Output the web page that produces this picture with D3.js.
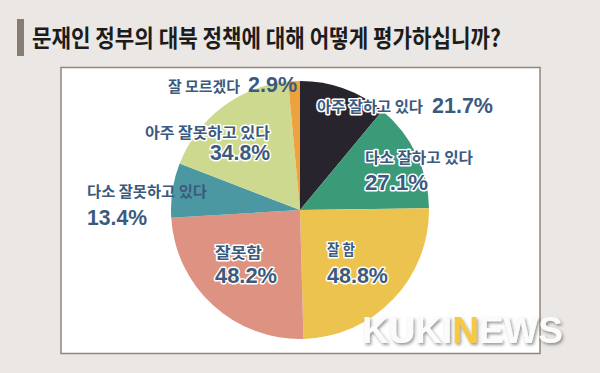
<!DOCTYPE html>
<html>
<head>
<meta charset="utf-8">
<script src="https://cdn.jsdelivr.net/npm/d3@7"></script>
<style>
  html, body { margin: 0; padding: 0; background: #ebe7e4; }
  svg { display: block; }
</style>
</head>
<body>
<svg id="chart"></svg>
<script>
const title = '문재인 정부의 대북 정책에 대해 어떻게 평가하십니까?';
const categories = ['아주 잘하고 있다', '다소 잘하고 있다', '잘 함', '잘못함', '다소 잘못하고 있다', '아주 잘못하고 있다', '잘 모르겠다'];
const values = [21.7, 27.1, 48.8, 48.2, 13.4, 34.8, 2.9];
const colors = ['#28242e', '#3b9a78', '#ecc34f', '#dd9282', '#4b98a3', '#cdd98e', '#eea23f'];

(function () {
    const width = 600;
    const height = 373;
    const cx = 300, cy = 210, radius = 129;

    // label placement, offsets from pie centre: name line and percent line
    const layout = [
        { nx: 17, ny: -98, nw: 106, px: 132, py: -97, pw: 61, halo: true },
        { nx: 65, ny: -47, nw: 108, px: 65, py: -20, pw: 63, halo: true },
        { nx: 27, ny: 45, nw: 28, px: 27, py: 73, pw: 61, halo: true },
        { nx: -85, ny: 48, nw: 47, px: -85, py: 73, pw: 62, halo: true },
        { nx: -213, ny: -13, nw: 120, px: -213, py: 15, pw: 60, halo: false },
        { nx: -155, ny: -72, nw: 125, px: -90, py: -50, pw: 60, halo: true },
        { nx: -132, ny: -118, nw: 72, px: -52, py: -118, pw: 49, halo: false }
    ];

    const svg = d3.select('#chart')
        .attr('width', width)
        .attr('height', height);

    const defs = svg.append('defs');
    defs.append('filter')
        .attr('id', 'shadow')
        .attr('x', '-10%').attr('y', '-30%')
        .attr('width', '130%').attr('height', '170%')
        .append('feDropShadow')
        .attr('dx', 1.5)
        .attr('dy', 2)
        .attr('stdDeviation', 1.4)
        .attr('flood-color', '#444')
        .attr('flood-opacity', 0.55);

    svg.append('rect')
        .attr('width', width)
        .attr('height', height)
        .attr('fill', '#ebe7e4');

    // title
    svg.append('rect')
        .attr('x', 17).attr('y', 19)
        .attr('width', 7).attr('height', 37)
        .attr('fill', '#877d73');

    svg.append('text')
        .attr('x', 32)
        .attr('y', 47)
        .attr('textLength', 469)
        .attr('lengthAdjust', 'spacingAndGlyphs')
        .style('font-family', '"Noto Sans CJK KR", sans-serif')
        .style('font-weight', 700)
        .style('font-size', '24px')
        .attr('fill', '#1c1c1c')
        .text(title);

    // panel
    svg.append('rect')
        .attr('x', 61).attr('y', 67.5)
        .attr('width', 479).attr('height', 286)
        .attr('fill', '#fff')
        .attr('stroke', '#8e877c')
        .attr('stroke-width', 1.5);

    const pie = d3.pie().sort(null).value(d => d);
    const arc = d3.arc().innerRadius(0).outerRadius(radius);

    const g = svg.append('g')
        .attr('transform', `translate(${cx},${cy})`);

    g.selectAll('path')
        .data(pie(values))
        .join('path')
        .attr('d', arc)
        .attr('fill', (d, i) => colors[i]);

    const labels = g.selectAll('g.label')
        .data(values)
        .join('g')
        .attr('class', 'label');

    labels.append('text')
        .attr('x', (d, i) => layout[i].nx)
        .attr('y', (d, i) => layout[i].ny)
        .attr('textLength', (d, i) => layout[i].nw)
        .attr('lengthAdjust', 'spacingAndGlyphs')
        .style('font-family', '"Noto Sans CJK KR", sans-serif')
        .style('font-weight', 700)
        .style('font-size', '15px')
        .style('paint-order', 'stroke')
        .attr('stroke', (d, i) => layout[i].halo ? '#fff' : 'none')
        .attr('stroke-width', 3)
        .attr('stroke-linejoin', 'round')
        .attr('fill', '#3b5a7e')
        .text((d, i) => categories[i]);

    labels.append('text')
        .attr('x', (d, i) => layout[i].px)
        .attr('y', (d, i) => layout[i].py)
        .attr('textLength', (d, i) => layout[i].pw)
        .attr('lengthAdjust', 'spacingAndGlyphs')
        .style('font-family', '"Liberation Sans", Arial, sans-serif')
        .style('font-weight', 700)
        .style('font-size', '22px')
        .style('paint-order', 'stroke')
        .attr('stroke', (d, i) => layout[i].halo ? '#fff' : 'none')
        .attr('stroke-width', 3)
        .attr('stroke-linejoin', 'round')
        .attr('fill', '#3b5a7e')
        .text(d => d3.format('.1f')(d) + '%');

    // watermark
    const mark = svg.append('text')
        .attr('x', 362)
        .attr('y', 343)
        .attr('textLength', 201)
        .attr('lengthAdjust', 'spacingAndGlyphs')
        .attr('filter', 'url(#shadow)')
        .style('font-family', '"Liberation Sans", Arial, sans-serif')
        .style('font-weight', 700)
        .style('font-size', '37px')
        .attr('fill', '#fbfbfb');
    mark.append('tspan').text('KUKI');
    mark.append('tspan').attr('fill', '#f7c940').text('N');
    mark.append('tspan').text('EWS');
})();
</script>
</body>
</html>
